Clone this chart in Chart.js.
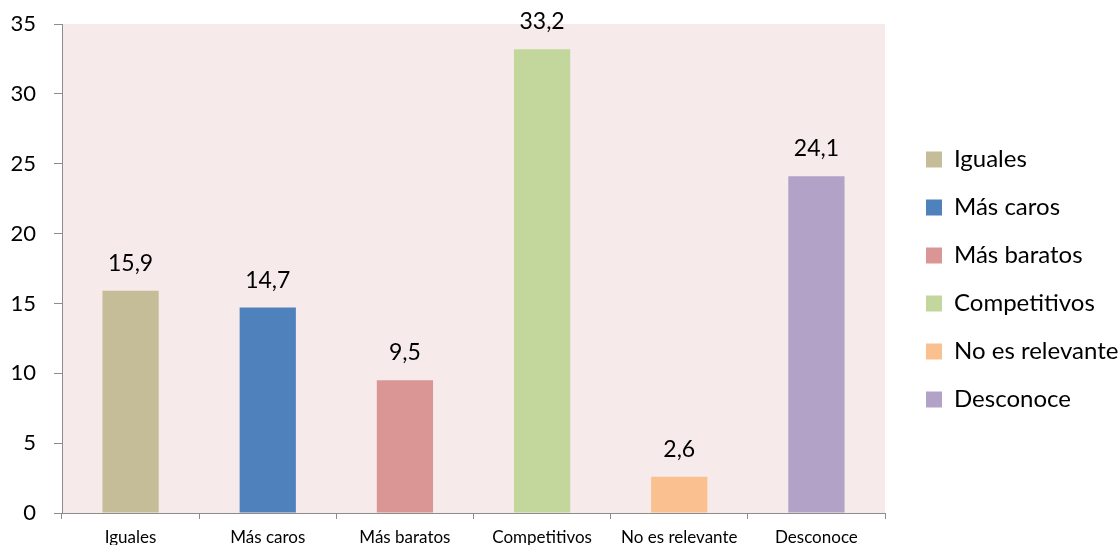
<!DOCTYPE html>
<html>
<head>
<meta charset="utf-8">
<script src="https://cdn.jsdelivr.net/npm/chart.js@4"></script>
<style>
    html, body { margin: 0; padding: 0; background: #fff; }
    #wrap { width: 1120px; height: 545px; }
</style>
</head>
<body>
<div id="wrap"><canvas id="chart"></canvas></div>
<script>
const categories = ['Iguales', 'Más caros', 'Más baratos', 'Competitivos', 'No es relevante', 'Desconoce'];
const values = [15.9, 14.7, 9.5, 33.2, 2.6, 24.1];
const barColors = ['#C4BD97', '#4F81BD', '#D99694', '#C3D69B', '#FAC090', '#B3A2C7'];
const yTicks = [0, 5, 10, 15, 20, 25, 30, 35];

const FONT = 'Lato, "Noto Sans", sans-serif';
const axisGray = '#8C8C8C';
const PLOT_RIGHT = 885;
const LEGEND_BOX_X = 926;
const LEGEND_PAD = 24;

// pink plot area
const plotBackground = {
    id: 'plotBackground',
    beforeDraw(chart) {
        const { ctx, chartArea } = chart;
        ctx.save();
        ctx.fillStyle = '#F6EAEA';
        ctx.fillRect(chartArea.left, chartArea.top, chartArea.right - chartArea.left, chartArea.bottom - chartArea.top);
        ctx.restore();
    },
};

// keep the plot right edge fixed and push the legend out beside it
const legendPlacement = {
    id: 'legendPlacement',
    beforeLayout(chart) {
        const legend = chart.legend;
        if (legend && !legend._fixedWidth) {
            const fit = legend.fit.bind(legend);
            legend.fit = function () {
                fit();
                this.width = chart.width - PLOT_RIGHT;
            };
            legend._fixedWidth = true;
        }
    },
    afterLayout(chart) {
        const legend = chart.legend;
        if (legend) {
            const shift = LEGEND_BOX_X - LEGEND_PAD - legend.left;
            legend.left += shift;
            legend.right += shift;
            legend.top -= 5;
            legend.bottom -= 5;
        }
    },
};

// value labels above the bars, decimal comma
const valueLabels = {
    id: 'valueLabels',
    afterDatasetsDraw(chart) {
        const { ctx } = chart;
        const meta = chart.getDatasetMeta(0);
        ctx.save();
        ctx.font = '23px ' + FONT;
        ctx.fillStyle = '#000';
        ctx.textAlign = 'center';
        ctx.textBaseline = 'alphabetic';
        meta.data.forEach((bar, i) => {
            const text = values[i].toFixed(1).replace('.', ',');
            ctx.fillText(text, bar.x, bar.y - 20);
        });
        ctx.restore();
    },
};

new Chart(document.getElementById('chart'), {
    type: 'bar',
    data: {
        labels: categories,
        datasets: [{
            data: values,
            backgroundColor: barColors,
            categoryPercentage: 1,
            barPercentage: 0.41,
        }],
    },
    options: {
        responsive: true,
        maintainAspectRatio: false,
        animation: false,
        layout: {
            padding: { top: 24, left: 0, right: 0, bottom: 0 },
        },
        plugins: {
            legend: {
                position: 'right',
                labels: {
                    boxWidth: 16,
                    boxHeight: 16,
                    padding: LEGEND_PAD,
                    color: '#000',
                    font: { family: FONT, size: 24 },
                    generateLabels: (chart) => chart.data.labels.map((label, i) => ({
                        text: label,
                        fillStyle: barColors[i],
                        strokeStyle: barColors[i],
                        lineWidth: 0,
                        hidden: false,
                        index: i,
                    })),
                },
            },
            tooltip: { enabled: false },
        },
        scales: {
            x: {
                offset: true,
                grid: {
                    offset: true,
                    drawOnChartArea: false,
                    drawTicks: true,
                    tickLength: 6,
                    tickColor: axisGray,
                },
                border: { display: true, color: axisGray, width: 1 },
                ticks: {
                    color: '#000',
                    padding: 8,
                    maxRotation: 0,
                    autoSkip: false,
                    font: { family: FONT, size: 17 },
                },
                afterFit: (scale) => {
                    scale.height = 32;
                    scale.paddingLeft = 0;
                    scale.paddingRight = 0;
                },
            },
            y: {
                min: 0,
                max: 35,
                afterBuildTicks: (scale) => { scale.ticks = yTicks.map((v) => ({ value: v })); },
                grid: {
                    drawOnChartArea: false,
                    drawTicks: true,
                    tickLength: 8,
                    tickColor: axisGray,
                },
                border: { display: true, color: axisGray, width: 1 },
                ticks: {
                    color: '#000',
                    padding: 18,
                    font: { family: FONT, size: 22 },
                },
                afterFit: (scale) => {
                    scale.width = 62;
                    scale.paddingTop = 0;
                    scale.paddingBottom = 0;
                },
            },
        },
    },
    plugins: [plotBackground, legendPlacement, valueLabels],
});
</script>
</body>
</html>
